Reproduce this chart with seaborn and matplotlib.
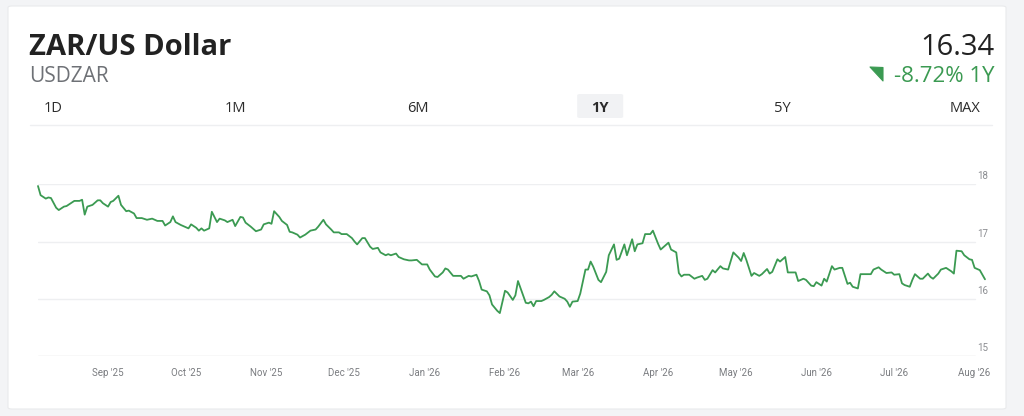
import pandas as pd
import seaborn as sns
from matplotlib import pyplot as plt
from matplotlib.patches import FancyBboxPatch, Polygon
import matplotlib.transforms as mtransforms

# USD/ZAR 1Y history: day offset from start, close value
start_date = "2025-08-05"
days = [0, 1, 3, 4, 5, 7, 8, 10, 11, 13, 14, 16, 17, 18, 19, 21, 23, 24, 25, 27,
        28, 29, 31, 32, 34, 35, 37, 38, 40, 42, 44, 46, 48, 49, 51, 52, 53, 55, 56, 58,
        59, 61, 62, 63, 64, 66, 67, 69, 70, 72, 73, 75, 76, 78, 79, 80, 82, 84, 86, 87,
        89, 90, 91, 93, 94, 96, 97, 98, 100, 101, 103, 105, 107, 108, 110, 111, 113, 114, 116, 117,
        119, 121, 122, 123, 125, 126, 128, 129, 131, 132, 134, 135, 136, 138, 139, 141, 143, 144, 146, 148,
        150, 151, 153, 154, 156, 157, 158, 160, 162, 163, 164, 166, 167, 169, 170, 171, 173, 174, 175, 177,
        178, 180, 181, 183, 184, 185, 187, 188, 189, 190, 191, 192, 194, 195, 197, 198, 199, 201, 203, 204,
        205, 206, 208, 209, 211, 212, 213, 214, 216, 217, 219, 220, 222, 223, 224, 226, 227, 229, 230, 231,
        233, 234, 236, 237, 239, 240, 241, 243, 244, 246, 247, 248, 249, 251, 253, 254, 256, 257, 258, 260,
        261, 263, 264, 266, 268, 270, 271, 272, 273, 275, 276, 278, 279, 281, 282, 283, 285, 286, 288, 289,
        291, 292, 293, 295, 296, 298, 299, 300, 302, 303, 304, 306, 307, 309, 310, 312, 313, 314, 316, 317,
        319, 321, 322, 324, 325, 327, 329, 330, 332, 333, 334, 336, 337, 338, 340, 341, 343, 344, 345, 347,
        348, 350, 352, 353, 354, 356, 357, 359, 360, 361, 363, 365]
rates = [17.97, 17.81, 17.75, 17.77, 17.76, 17.59, 17.55, 17.61, 17.62, 17.68, 17.71, 17.71, 17.73, 17.47, 17.61, 17.64, 17.72, 17.72, 17.67, 17.61,
         17.69, 17.71, 17.80, 17.64, 17.53, 17.54, 17.49, 17.41, 17.41, 17.38, 17.40, 17.36, 17.36, 17.28, 17.34, 17.44, 17.34, 17.29, 17.27, 17.23,
         17.30, 17.24, 17.19, 17.23, 17.19, 17.23, 17.52, 17.34, 17.40, 17.37, 17.34, 17.38, 17.27, 17.43, 17.42, 17.33, 17.26, 17.18, 17.21, 17.30,
         17.33, 17.31, 17.53, 17.43, 17.36, 17.29, 17.17, 17.16, 17.12, 17.07, 17.12, 17.19, 17.21, 17.26, 17.38, 17.30, 17.21, 17.16, 17.16, 17.13,
         17.13, 17.06, 17.00, 16.95, 17.06, 17.06, 16.91, 16.87, 16.89, 16.81, 16.76, 16.78, 16.76, 16.79, 16.73, 16.69, 16.67, 16.67, 16.68, 16.60,
         16.60, 16.51, 16.39, 16.38, 16.46, 16.53, 16.51, 16.40, 16.40, 16.40, 16.35, 16.40, 16.39, 16.42, 16.31, 16.16, 16.13, 16.06, 15.90, 15.79,
         15.75, 16.14, 16.11, 15.98, 16.06, 16.31, 16.06, 15.93, 15.92, 15.95, 15.87, 15.96, 15.96, 15.98, 16.03, 16.07, 16.13, 16.04, 16.00, 15.95,
         15.86, 15.95, 15.96, 16.09, 16.51, 16.51, 16.65, 16.56, 16.33, 16.29, 16.47, 16.76, 16.95, 16.68, 16.70, 16.95, 16.76, 17.04, 16.83, 16.95,
         16.97, 17.13, 17.13, 17.19, 16.96, 16.86, 16.90, 16.98, 16.86, 16.81, 16.45, 16.39, 16.42, 16.42, 16.35, 16.37, 16.40, 16.33, 16.35, 16.50,
         16.46, 16.57, 16.53, 16.51, 16.81, 16.72, 16.66, 16.80, 16.68, 16.40, 16.45, 16.40, 16.43, 16.52, 16.44, 16.47, 16.69, 16.65, 16.73, 16.46,
         16.46, 16.46, 16.31, 16.35, 16.33, 16.23, 16.22, 16.29, 16.23, 16.35, 16.30, 16.57, 16.51, 16.54, 16.54, 16.26, 16.28, 16.21, 16.18, 16.43,
         16.43, 16.43, 16.51, 16.55, 16.51, 16.45, 16.46, 16.42, 16.43, 16.27, 16.24, 16.21, 16.33, 16.43, 16.35, 16.35, 16.44, 16.38, 16.35, 16.44,
         16.51, 16.54, 16.48, 16.44, 16.84, 16.83, 16.76, 16.69, 16.68, 16.54, 16.50, 16.34]

y_ticks = [15, 16, 17, 18]
tabs = ["1D", "1M", "6M", "1Y", "5Y", "MAX"]
active_tab = "1Y"
title = "ZAR/US Dollar"
symbol = "USDZAR"
last_price = "16.34"
change_text = "-8.72% 1Y"

GREEN = "#3b9a52"
W, H = 1024, 416


def fx(px):
    return px / W


def fy(py):
    return 1 - py / H


df = pd.DataFrame({"date": pd.Timestamp(start_date) + pd.to_timedelta(days, unit="D"),
                   "rate": rates})

sns.set_theme(style="white")
plt.rcParams["font.family"] = ["Open Sans", "DejaVu Sans"]

fig = plt.figure(figsize=(W / 100, H / 100), dpi=100)
fig.patch.set_facecolor("#f3f4f6")

# white card behind everything
card = FancyBboxPatch((fx(8), fy(409)), 998 / W, 403 / H,
                      boxstyle="round,pad=0,rounding_size=0.004",
                      transform=fig.transFigure, facecolor="white",
                      edgecolor="#e9eaec", linewidth=0.8, zorder=-5)
fig.patches.append(card)

# header
fig.text(fx(29), fy(55), title, fontsize=21, fontweight="bold",
         color="#222222", va="baseline", ha="left")
fig.text(fx(29), fy(82), symbol, fontsize=15, color="#6e7176",
         va="baseline", ha="left")
fig.text(fx(994), fy(55), last_price, fontsize=21, color="#222222",
         va="baseline", ha="right")
fig.text(fx(994), fy(82), change_text, fontsize=16, color=GREEN,
         va="baseline", ha="right")
tri = Polygon([(fx(870), fy(67)), (fx(883), fy(67.5)), (fx(883), fy(81))],
              closed=True, transform=fig.transFigure, facecolor=GREEN,
              edgecolor=GREEN, linewidth=0.8, joinstyle="round")
fig.patches.append(tri)

# range tabs
for i, tab in enumerate(tabs):
    cx = 53 + i * 182.4
    if tab == active_tab:
        box = FancyBboxPatch((fx(cx - 23), fy(118)), 46 / W, 24 / H,
                             boxstyle="round,pad=0,rounding_size=0.003",
                             transform=fig.transFigure, facecolor="#f1f2f4",
                             edgecolor="none", zorder=-1)
        fig.patches.append(box)
    fig.text(fx(cx), fy(112), tab, fontsize=10.5, color="#2b2b2b",
             fontweight="bold" if tab == active_tab else "normal",
             va="baseline", ha="center")
fig.add_artist(plt.Line2D([fx(30), fx(992)], [fy(125), fy(125)],
                          transform=fig.transFigure, color="#eeeff1", linewidth=1))

# chart
ax = fig.add_axes([fx(38), fy(356), 947 / W, (356 - 184.3) / H])
ax.set_facecolor("none")
x0 = pd.Timestamp(start_date)
ax.set_xlim(x0, x0 + pd.Timedelta(days=365))
ax.set_ylim(15, 18)

grid_end = (975 - 38) / 947
for v in y_ticks:
    ax.axhline(v, xmin=0, xmax=grid_end, color="#dcdde0" if v == 15 else "#eeeff1",
               linewidth=1, zorder=0)

sns.lineplot(data=df, x="date", y="rate", ax=ax, color=GREEN, linewidth=1.3,
             clip_on=False, zorder=3)

trans = mtransforms.blended_transform_factory(ax.transAxes, ax.transData)
for v in y_ticks:
    ax.text((983 - 38) / 947, v + 0.05, str(v), transform=trans, fontsize=7,
            color="#8a8c90", ha="center", va="bottom", family=["Roboto", "DejaVu Sans"])

month_ticks = pd.date_range("2025-09-01", "2026-08-01", freq="MS")
ax.set_xticks(month_ticks)
ax.set_xticklabels([d.strftime("%b '%y") for d in month_ticks], fontsize=7,
                   color="#7a7c80", family=["Roboto", "DejaVu Sans"])
ax.set_yticks([])
ax.tick_params(axis="x", length=0, pad=9)
ax.set_xlabel("")
ax.set_ylabel("")
sns.despine(ax=ax, left=True, bottom=True)

fig.savefig("out.png", dpi=100)
